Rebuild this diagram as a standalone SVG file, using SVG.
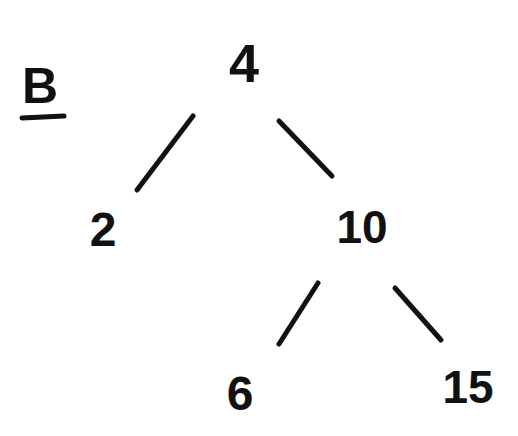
<svg xmlns="http://www.w3.org/2000/svg" width="518" height="436" viewBox="0 0 518 436">
<style>
.t{font-family:"Liberation Sans",Arial,sans-serif;font-weight:bold;fill:#111;text-anchor:middle}
.e{stroke:#111;stroke-width:5;stroke-linecap:round;fill:none}
</style>
<rect width="518" height="436" fill="#fff"/>
<g id="label-B">
<text class="t" x="40" y="103" font-size="50">B</text>
<path class="e" d="M22 118 L64 116"/>
</g>
<g id="connectors">
<path class="e" d="M193 116 L137 190"/>
<path class="e" d="M279 121 L332 176"/>
<path class="e" d="M318 283 L279 344"/>
<path class="e" d="M395 288 L441 340"/>
</g>
<g id="n4"><text class="t" x="244" y="82" font-size="54">4</text></g>
<g id="n2"><text class="t" x="103" y="246" font-size="48">2</text></g>
<g id="n10"><text class="t" x="362" y="243" font-size="46">10</text></g>
<g id="n6"><text class="t" x="240" y="410" font-size="48">6</text></g>
<g id="n15"><text class="t" x="468" y="403" font-size="46">15</text></g>
</svg>
